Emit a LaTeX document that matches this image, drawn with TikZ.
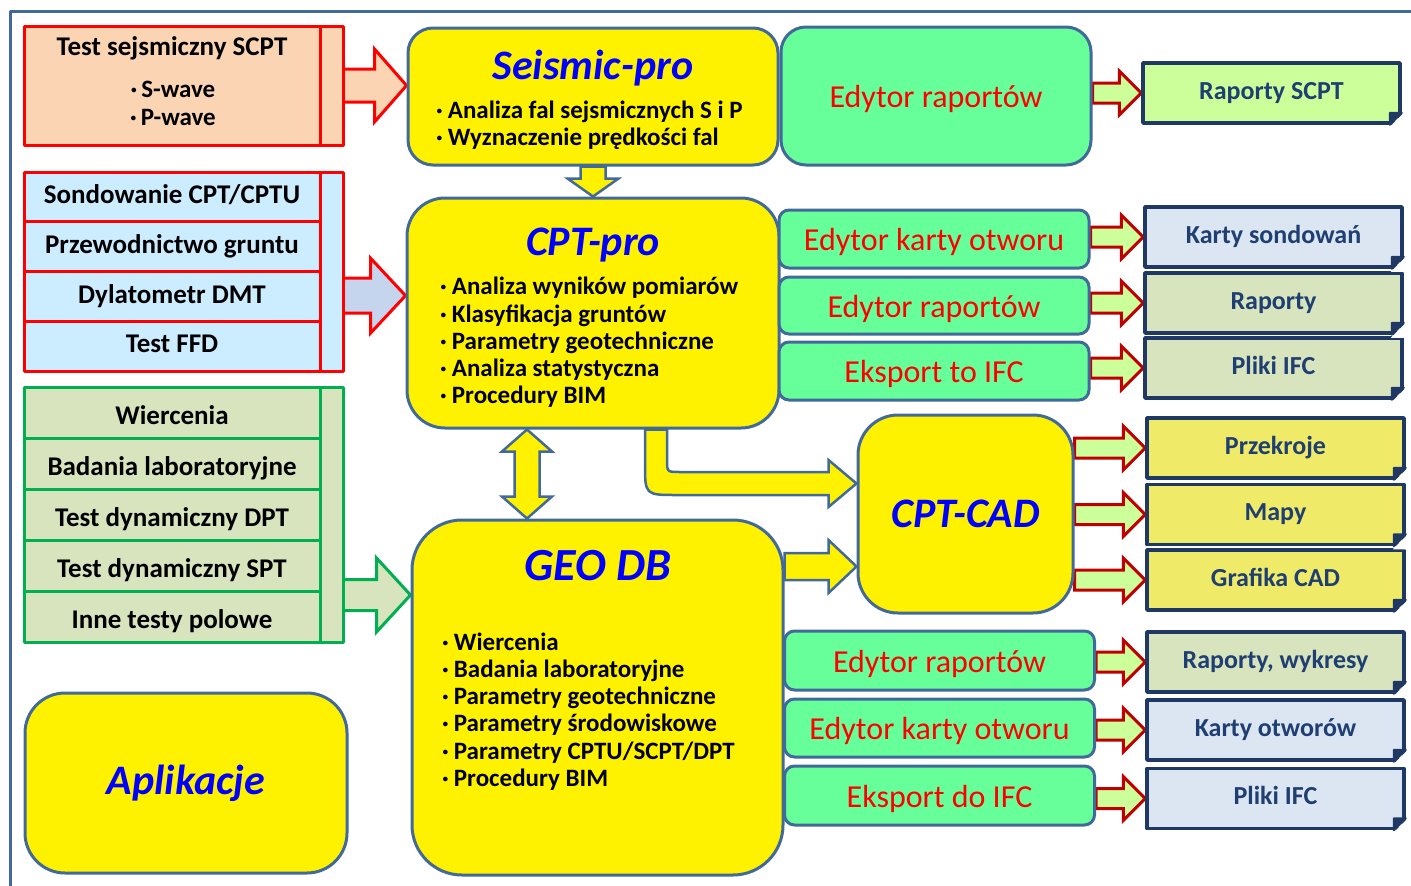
\documentclass[tikz,border=0pt]{standalone}
\usepackage{fontspec}
\setmainfont{Carlito}
\usetikzlibrary{positioning,calc,backgrounds}

\definecolor{frameblue}{HTML}{41699A}
\definecolor{peach}{HTML}{FBD4B4}
\definecolor{cptblue}{HTML}{CCECFF}
\definecolor{cptarrow}{HTML}{C6D5EE}
\definecolor{greenrow}{HTML}{D7E4BD}
\definecolor{groupgreen}{HTML}{00B050}
\definecolor{editgreen}{HTML}{66FF99}
\definecolor{outnavy}{HTML}{1F3864}
\definecolor{outtext}{HTML}{1F3F73}
\definecolor{outgreen}{HTML}{CCFF99}
\definecolor{outblue}{HTML}{DCE6F2}
\definecolor{outolive}{HTML}{D7E4BD}
\definecolor{outyellow}{HTML}{EFEA68}
\definecolor{darkred}{HTML}{C00000}
\definecolor{titleblue}{HTML}{0000FF}

% fat block arrow: style, start, end, shaft half, head half, head length
\newcommand{\fatarrow}[6]{%
  \draw[#1] let \p1=#2, \p2=#3 in
    (\x1,\y1+#4) -- (\x2-#6,\y1+#4) -- (\x2-#6,\y1+#5) -- (\x2,\y1)
    -- (\x2-#6,\y1-#5) -- (\x2-#6,\y1-#4) -- (\x1,\y1-#4) -- cycle;}

\begin{document}
\begin{tikzpicture}[x=1pt,y=-1pt,line join=round,
    row node/.style={draw,line width=3pt,outer sep=0pt,inner sep=0pt,minimum width=296pt,
      text height=19pt,text depth=6pt,font=\bfseries\fontsize{27}{32}\selectfont},
    green row/.style={row node,draw=groupgreen,fill=greenrow,minimum height=51pt,text height=24pt,text depth=1pt},
    bar node/.style={row node,minimum width=23pt,anchor=north west},
    yellow box/.style={draw=frameblue,line width=3pt,fill=yellow,rounded corners=#1},
    prog title/.style={text=titleblue,font=\bfseries\itshape\fontsize{42}{50}\selectfont},
    bullet text/.style={align=left,inner sep=0pt,anchor=west,font=\bfseries\fontsize{25}{27.2}\selectfont},
    edit node/.style={draw=frameblue,line width=3pt,fill=editgreen,rounded corners=10pt,
      minimum width=310pt,text=red,text height=25pt,text depth=2pt,font=\fontsize{32}{38}\selectfont},
    out node/.style={draw=outnavy,line width=3.5pt,minimum width=257pt,minimum height=60pt,
      text=outtext,text height=18pt,text depth=6pt,font=\bfseries\fontsize{26}{31}\selectfont},
    red arrow/.style={draw=red,line width=3pt},
    small arrow/.style={draw=darkred,fill=outgreen,line width=3pt},
    yellow arrow/.style={draw=frameblue,fill=yellow,line width=2.5pt}]
\useasboundingbox (0,0) rectangle (1411,886);
\draw[frameblue,line width=3pt] (10,900) -- (10,11) -- (1425,11);

% left column
\node[row node,draw=red,fill=peach,minimum height=119pt] (scpt) at (172,85.5) {};
\node[bar node,draw=red,fill=peach,minimum height=119pt] (scptbar) at (scpt.north east) {};
\node[font=\bfseries\fontsize{27}{32}\selectfont] at ([yshift=-22pt]scpt.north) {Test sejsmiczny SCPT};
\node[align=center,font=\bfseries\fontsize{25}{28}\selectfont] at (173,103) {·\hspace{4pt}S-wave\\·\hspace{4pt}P-wave};

\node[row node,draw=red,fill=cptblue,minimum height=49.75pt] (cpt1) at (172,197) {Sondowanie CPT/CPTU};
\node[row node,draw=red,fill=cptblue,minimum height=49.75pt,below=0pt of cpt1] (cpt2) {Przewodnictwo gruntu};
\node[row node,draw=red,fill=cptblue,minimum height=49.75pt,below=0pt of cpt2] (cpt3) {Dylatometr DMT};
\node[row node,draw=red,fill=cptblue,minimum height=49.75pt,below=0pt of cpt3] (cpt4) {Test FFD};
\node[bar node,draw=red,fill=cptblue,minimum height=199pt] (cptbar) at (cpt1.north east) {};

\node[green row] (g1) at (172,412.5) {Wiercenia};
\node[green row,below=0pt of g1] (g2) {Badania laboratoryjne};
\node[green row,below=0pt of g2] (g3) {Test dynamiczny DPT};
\node[green row,below=0pt of g3] (g4) {Test dynamiczny SPT};
\node[green row,below=0pt of g4] (g5) {Inne testy polowe};
\node[bar node,draw=groupgreen,fill=greenrow,minimum height=255pt] (gbar) at (g1.north east) {};

\node[yellow box=40pt,prog title,minimum width=322pt,minimum height=180pt] (apl) at (186,783) {Aplikacje};

% programs
\node[yellow box=25pt,minimum width=370pt,minimum height=137pt] (seis) at (593,96.5) {};
\node[prog title] at ([yshift=-42pt]seis.north) {Seismic-pro};
\node[bullet text] at (436,125.5) {·\hspace{5pt}Analiza fal sejsmicznych S i P\\·\hspace{5pt}Wyznaczenie prędkości fal};

\node[yellow box=38pt,minimum width=372pt,minimum height=230pt] (cptpro) at (593,313) {};
\node[prog title] at ([yshift=-49pt]cptpro.north) {CPT-pro};
\node[bullet text] at (440,342.5) {·\hspace{5pt}Analiza wyników pomiarów\\·\hspace{5pt}Klasyfikacja gruntów\\
  ·\hspace{5pt}Parametry geotechniczne\\·\hspace{5pt}Analiza statystyczna\\·\hspace{5pt}Procedury BIM};

\node[yellow box=50pt,minimum width=371pt,minimum height=355pt] (geodb) at (597.5,697.5) {};
\node[prog title,font=\bfseries\itshape\fontsize{46}{54}\selectfont] at ([yshift=-47pt]geodb.north) {GEO DB};
\node[bullet text] at (442,711.5) {·\hspace{5pt}Wiercenia\\·\hspace{5pt}Badania laboratoryjne\\
  ·\hspace{5pt}Parametry geotechniczne\\·\hspace{5pt}Parametry środowiskowe\\
  ·\hspace{5pt}Parametry CPTU/SCPT/DPT\\·\hspace{5pt}Procedury BIM};

\node[yellow box=40pt,prog title,minimum width=215pt,minimum height=198pt] (cptcad) at (965.5,514) {CPT-CAD};

% editors
\node[edit node,rounded corners=25pt,minimum height=138pt] (edtop) at (936,96) {Edytor raportów};
\node[edit node,minimum height=58pt] (ed1) at (934,239) {Edytor karty otworu};
\node[edit node,minimum height=57pt] (ed2) at (934,305.5) {Edytor raportów};
\node[edit node,minimum height=58pt] (ed3) at (934,371) {Eksport to IFC};
\node[edit node,minimum height=59pt] (ed4) at (939.5,660.5) {Edytor raportów};
\node[edit node,minimum height=58pt] (ed5) at (939.5,728) {Edytor karty otworu};
\node[edit node,minimum height=59pt] (ed6) at (939.5,795.5) {Eksport do IFC};

% outputs
\node[out node,fill=outgreen] (o1) at (1271.5,93) {Raporty SCPT};
\node[out node,fill=outblue] (o2) at (1273.5,237) {Karty sondowań};
\node[out node,fill=outolive] (o3) at (1273.5,303) {Raporty};
\node[out node,fill=outolive] (o4) at (1273.5,368) {Pliki IFC};
\node[out node,fill=outyellow] (o5) at (1275.5,448) {Przekroje};
\node[out node,fill=outyellow] (o6) at (1275.5,514.5) {Mapy};
\node[out node,fill=outyellow] (o7) at (1275.5,580) {Grafika CAD};
\node[out node,fill=outolive] (o8) at (1275.5,662) {Raporty, wykresy};
\node[out node,fill=outblue] (o9) at (1275.5,730) {Karty otworów};
\node[out node,fill=outblue] (o10) at (1275.5,798.5) {Pliki IFC};
\foreach \n in {1,...,10} {
  \fill[white] ([shift={(-13pt,-3pt)}]o\n.south east) -- ([shift={(3pt,-3pt)}]o\n.south east)
    -- ([shift={(3pt,13pt)}]o\n.south east) -- cycle;
  \filldraw[outnavy,line width=2pt] ([xshift=-12pt]o\n.south east) -- ([yshift=12pt]o\n.south east)
    -- ([shift={(-12pt,12pt)}]o\n.south east) -- cycle;
}

% arrows
\coordinate (cadin1) at ([yshift=30.5pt]cptcad.west);
\coordinate (cadin2) at ([yshift=-52.5pt]cptcad.west);
\begin{pgfonlayer}{background}
\fatarrow{red arrow,fill=peach}{(scptbar.east)}{(seis.west)}{16.5pt}{36.5pt}{32pt}
\fatarrow{red arrow,fill=cptarrow}{([yshift=-24pt]cptbar.east)}{(cptpro.west)}{17.5pt}{37.5pt}{35pt}
\fatarrow{draw=groupgreen,fill=greenrow,line width=3pt}{([yshift=-80.5pt]gbar.east)}{(geodb.west)}{15.5pt}{37pt}{34pt}
\fatarrow{small arrow}{(o1.west -| edtop.east)}{(o1.west)}{10pt}{22pt}{22pt}
\foreach \e/\o in {ed1/2,ed2/3,ed3/4,ed4/8,ed5/9,ed6/10}
  \fatarrow{small arrow}{(o\o.west -| \e.east)}{(o\o.west)}{10pt}{22pt}{22pt};
\foreach \o in {5,6,7}
  \fatarrow{small arrow}{(o\o.west -| cptcad.east)}{(o\o.west)}{10pt}{22pt}{22pt};
\fatarrow{yellow arrow}{(geodb.east |- cadin2)}{(cadin2)}{13.5pt}{26.5pt}{28pt}
\draw[yellow arrow] let \p1=(seis.south), \p2=(cptpro.north) in
  (\x1-12.5pt,\y1) -- (\x1-12.5pt,\y2+18pt) -- (\x1-25.5pt,\y2+18pt) -- (\x1,\y2)
  -- (\x1+25.5pt,\y2+18pt) -- (\x1+12.5pt,\y2+18pt) -- (\x1+12.5pt,\y1) -- cycle;
\draw[yellow arrow] let \p1=([xshift=-66pt]cptpro.south), \p2=(geodb.north) in
  (\x1,\y1) -- (\x1+25pt,\y1-22pt) -- (\x1+12.5pt,\y1-22pt) -- (\x1+12.5pt,\y2+22pt)
  -- (\x1+25pt,\y2+22pt) -- (\x1,\y2) -- (\x1-25pt,\y2+22pt) -- (\x1-12.5pt,\y2+22pt)
  -- (\x1-12.5pt,\y1-22pt) -- (\x1-25pt,\y1-22pt) -- cycle;
\draw[yellow arrow] let \p1=([xshift=63pt]cptpro.south), \p2=(cadin1) in
  (\x1-11pt,\y1) -- (\x1-11pt,\y2+20pt) .. controls (\x1-11pt,\y2-11.5pt) .. (\x1+21pt,\y2-11.5pt)
  -- (\x2-28pt,\y2-11.5pt) -- (\x2-28pt,\y2-23.5pt) -- (\x2,\y2) -- (\x2-28pt,\y2+23.5pt)
  -- (\x2-28pt,\y2+11.5pt) -- (\x1+24pt,\y2+11.5pt) .. controls (\x1+11pt,\y2+11.5pt) .. (\x1+11pt,\y2+24pt)
  -- (\x1+11pt,\y1) -- cycle;
\end{pgfonlayer}
\end{tikzpicture}
\end{document}
